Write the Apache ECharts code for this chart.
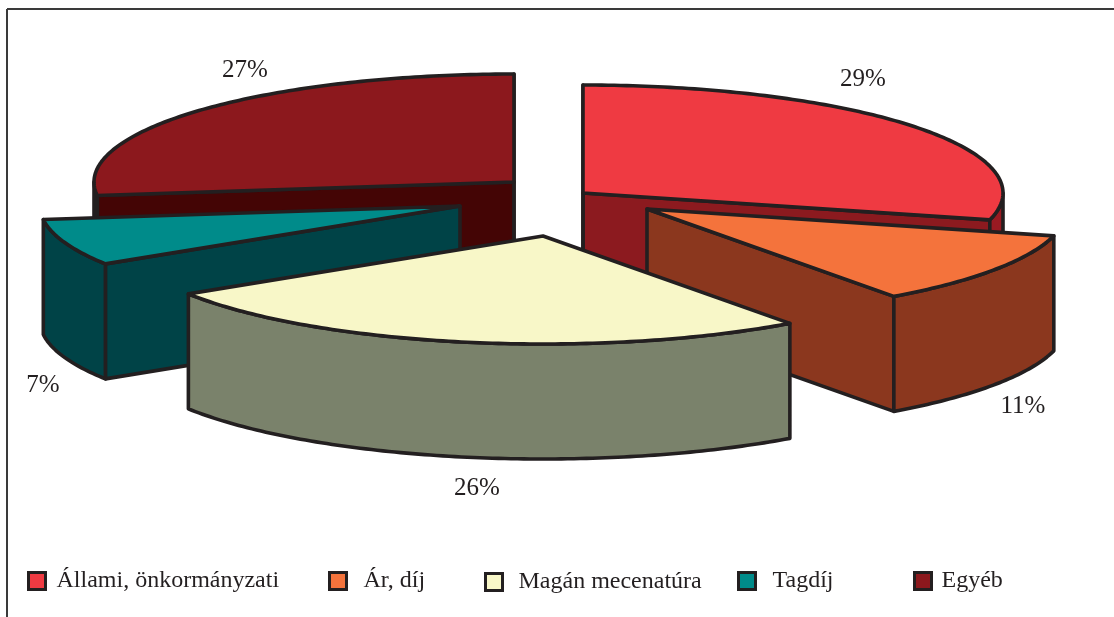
<!DOCTYPE html>
<html>
<head>
<meta charset="utf-8">
<style>html,body{margin:0;padding:0;background:#fff}#c{width:1114px;height:617px}</style>
<script src="https://cdn.jsdelivr.net/npm/echarts@6/dist/echarts.min.js"></script>
</head>
<body>
<div id="c"></div>
<script>
// Data
const categories = ['Állami, önkormányzati', 'Ár, díj', 'Magán mecenatúra', 'Tagdíj', 'Egyéb'];
const shares = [29, 11, 26, 7, 27];

// Styles and layout
const topColors = ['#EF3A42', '#F4733C', '#F8F7C8', '#008B8A', '#8C181D'];
const sideColors = ['#8C1A1F', '#8B371E', '#7A826B', '#004347', '#440505'];
const outerWallColors = ['#9A1A22', '#8B371E', '#7A826B', '#004347', '#231F20'];
const stackOrder = [4, 0, 3, 1, 2];
const explodeOrigin = [551, 195];
const explodeX = [32, 96, -8, -91, -37];
const explodeY = [-2, 14, 41, 11, -13];
const radiusX = 420, radiusY = 108, depth = 115;
const labelX = [863, 1023, 477, 43, 245];
const labelY = [79, 406, 488, 385, 70];
const legendX = [27, 328, 484, 737, 913];
const legendY = [569, 569, 570, 569, 569];
const legendGap = [6, 12, 11, 12, 5];
const ink = '#231F20';
const fontFamily = '"Liberation Serif", serif';

const total = shares.reduce((a, b) => a + b, 0);
const deg = v => v / total * Math.PI * 2;
const startAngles = shares.map((_, i) => deg(shares.slice(0, i).reduce((a, b) => a + b, 0)));

function slice(i, value, api) {
  const a0 = startAngles[i], a1 = a0 + deg(value);
  const cx = explodeOrigin[0] + explodeX[i], cy = explodeOrigin[1] + explodeY[i];
  const pt = (a, dz) => [cx + radiusX * Math.sin(a), cy - radiusY * Math.cos(a) + (dz || 0)];
  const arc = (from, to, dz) => {
    const n = Math.max(2, Math.ceil((to - from) / 0.015));
    const out = [];
    for (let k = 0; k <= n; k++) out.push(pt(from + (to - from) * k / n, dz));
    return out;
  };
  const poly = (points, fill) => ({
    type: 'polygon',
    shape: { points },
    style: { fill, stroke: ink, lineWidth: 3.6, lineJoin: 'round' }
  });
  const children = [];
  const apex = [cx, cy], apexLow = [cx, cy + depth];
  if (Math.sin(a0) < -1e-6) children.push(poly([apex, pt(a0), pt(a0, depth), apexLow], sideColors[i]));
  if (Math.sin(a1) > 1e-6) children.push(poly([apex, pt(a1), pt(a1, depth), apexLow], sideColors[i]));
  if (i === 4) children.push(poly([apex, pt(a1), pt(a1, depth), apexLow], sideColors[i]));
  if (i === 0) children.push(poly([apex, pt(a0), pt(a0, depth), apexLow], sideColors[i]));
  // outer wall: the part of the rim facing the viewer
  const wFrom = Math.max(a0, Math.PI / 2), wTo = Math.min(a1, Math.PI * 1.5);
  if (wTo > wFrom) {
    children.push(poly(arc(wFrom, wTo, 0).concat(arc(wFrom, wTo, depth).reverse()), outerWallColors[i]));
  }
  children.push(poly([apex].concat(arc(a0, a1, 0)), topColors[i]));
  return { type: 'group', children };
}

const series = stackOrder.map((i, order) => ({
  type: 'custom',
  name: categories[i],
  coordinateSystem: 'none',
  z: 2 + order,
  silent: true,
  animation: false,
  itemStyle: { color: topColors[i] },
  data: [[shares[i]]],
  renderItem: (params, api) => slice(i, api.value(0), api)
}));

// Percent labels go on top of everything
series.push({
  type: 'custom',
  name: 'labels',
  coordinateSystem: 'none',
  z: 20,
  silent: true,
  animation: false,
  data: shares.map(v => [v]),
  renderItem: (params, api) => ({
    type: 'text',
    style: {
      x: labelX[params.dataIndex],
      y: labelY[params.dataIndex],
      text: api.value(0) + '%',
      fill: ink,
      font: '25px ' + fontFamily,
      textAlign: 'center',
      textVerticalAlign: 'middle'
    }
  })
});

const legends = categories.map((name, i) => ({
  data: [name],
  left: legendX[i],
  top: legendY[i],
  padding: 0,
  orient: 'horizontal',
  icon: 'rect',
  itemWidth: 17,
  itemHeight: 17,
  itemGap: 0,
  selectedMode: false,
  itemStyle: { borderColor: ink, borderWidth: 3 },
  textStyle: { color: ink, fontFamily, fontSize: 24, padding: [0, 0, 0, legendGap[i]] }
}));

const chart = echarts.init(document.getElementById('c'), null, { renderer: 'canvas' });
chart.setOption({
  backgroundColor: '#fff',
  animation: false,
  legend: legends,
  graphic: [
    { type: 'line', z: 1, shape: { x1: 7, y1: 9, x2: 1114, y2: 9 }, style: { stroke: '#3a3a3a', lineWidth: 2 } },
    { type: 'line', z: 1, shape: { x1: 7, y1: 9, x2: 7, y2: 617 }, style: { stroke: '#3a3a3a', lineWidth: 2 } }
  ],
  series
});
</script>
</body>
</html>
